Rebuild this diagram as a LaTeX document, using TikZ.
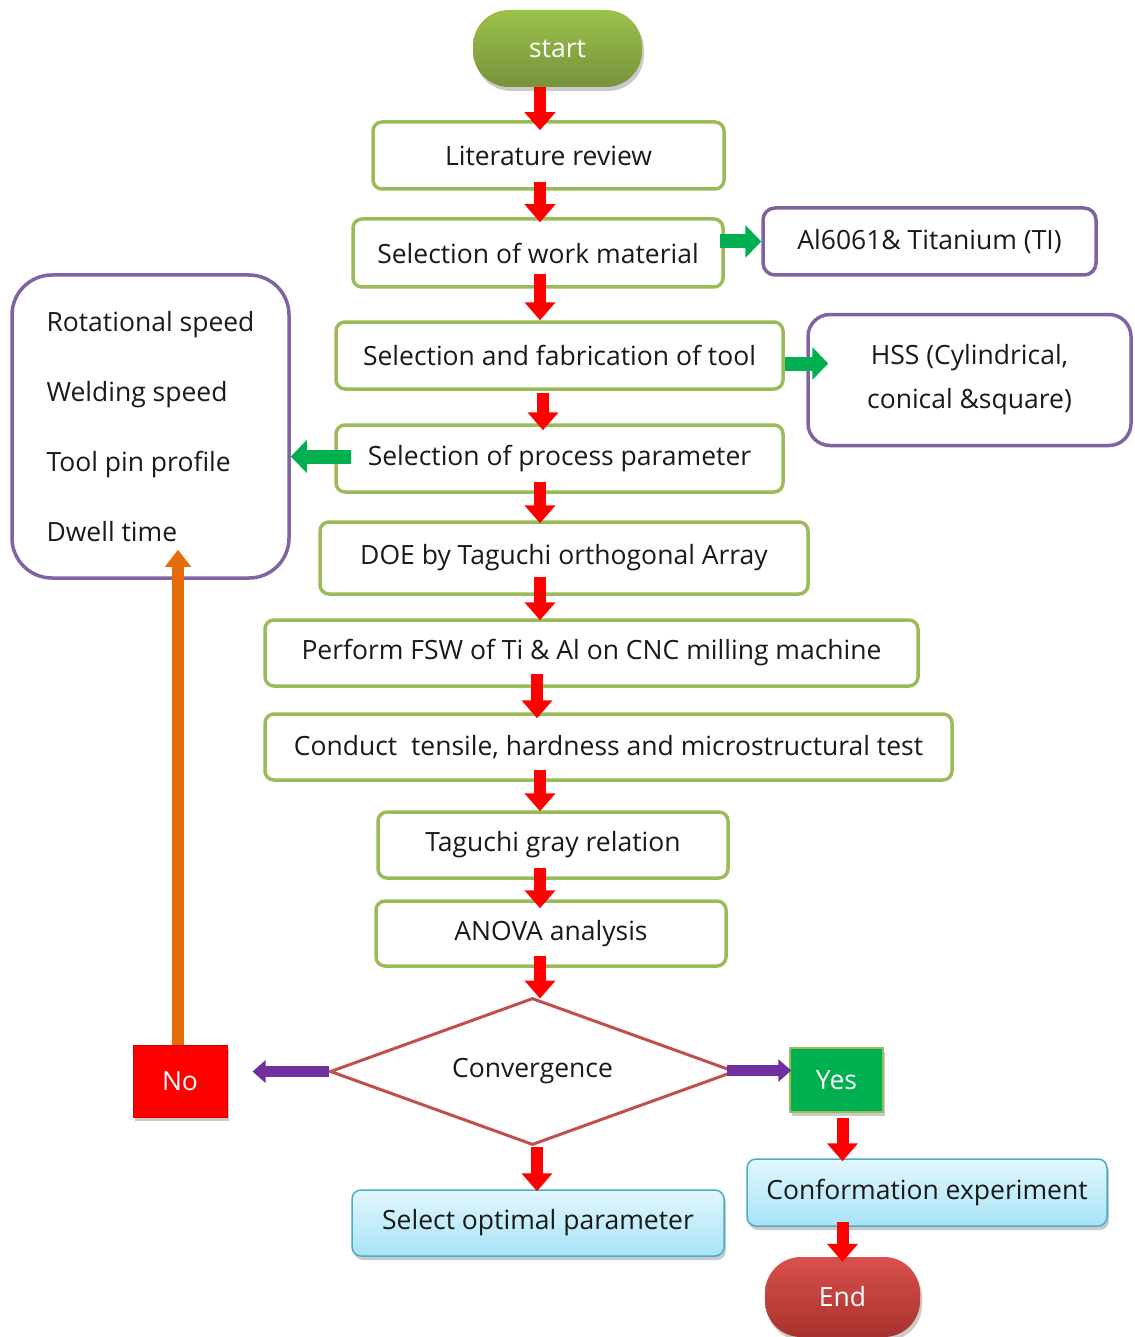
\documentclass[tikz,border=0pt]{standalone}
\usepackage{fontspec}
\setmainfont{Open Sans}
\usetikzlibrary{arrows.meta,shapes.geometric,shadows}
\definecolor{gbord}{HTML}{9BBB59}
\definecolor{pbord}{HTML}{8064A2}
\definecolor{arrgreen}{HTML}{00B050}
\definecolor{arrpurple}{HTML}{7030A0}
\definecolor{arrorange}{HTML}{E46C0A}
\definecolor{dbord}{HTML}{C0504D}
\definecolor{bluetop}{HTML}{E3F7FD}
\definecolor{bluebot}{HTML}{A7E3F6}
\definecolor{bluebord}{HTML}{4BACC6}
\definecolor{starttop}{HTML}{9BC24A}
\definecolor{startbot}{HTML}{76923C}
\definecolor{endtop}{HTML}{D9504C}
\definecolor{endbot}{HTML}{A8322E}
\definecolor{txt}{HTML}{1A1A1A}
\begin{document}
\begin{tikzpicture}[x=1pt,y=-1pt,
  every node/.style={font=\fontsize{26.5}{31}\selectfont, inner sep=0pt, text=txt},
  myshadow/.style={drop shadow={shadow xshift=2pt, shadow yshift=-4pt, opacity=0.35, fill=black!60}},
  stepbox/.style={draw=gbord, line width=3.5pt, rounded corners=9pt, fill=white},
  sidebox/.style={draw=pbord, line width=3.5pt, rounded corners=12pt, fill=white},
  pill/.style={rounded corners=36pt, text=white, myshadow},
  bluebox/.style={draw=bluebord, line width=1.5pt, rounded corners=9pt, top color=bluetop, bottom color=bluebot, myshadow},
  redarr/.style={draw=red, line width=12pt, -{Triangle[width=30pt,length=18pt]}, shorten <=-12pt, shorten >=-4pt},
  greenarr/.style={draw=arrgreen, line width=14pt, -{Triangle[width=32pt,length=16pt]}},
  purplearr/.style={draw=arrpurple, line width=11pt, -{Triangle[width=22pt,length=13pt]}},
  orangearr/.style={draw=arrorange, line width=12pt, -{Triangle[width=25pt,length=17pt]}}
]
\useasboundingbox (0,0) rectangle (1134,1337);

% nodes
\node[pill, top color=starttop, bottom color=startbot, minimum width=169pt, minimum height=77pt] (start) at (557.5,48.5) {start};
\node[stepbox, minimum width=351pt, minimum height=67pt] (lr) at (548.5,155.5) {Literature review};
\node[stepbox, minimum width=370pt, minimum height=68pt] (swm) at (538,253) {Selection of work material};
\node[sidebox, minimum width=333pt, minimum height=67pt] (al) at (929.5,241.5) {Al6061\& Titanium (TI)};
\node[stepbox, minimum width=447pt, minimum height=67pt] (sft) at (559.5,355.5) {Selection and fabrication of tool};
\node[sidebox, rounded corners=22pt, minimum width=323pt, minimum height=131pt, align=center] (hss) at (969.5,380) {HSS (Cylindrical,\\[13pt]conical \&square)};
\node[stepbox, minimum width=447pt, minimum height=67pt] (spp) at (559.5,458.5) {Selection of process parameter};
\node[sidebox, rounded corners=40pt, minimum width=277pt, minimum height=303pt, align=left] (params) at (150.5,426.5) {Rotational speed\\[39pt]Welding speed\\[39pt]Tool pin profile\\[39pt]Dwell time};
\node[stepbox, minimum width=488pt, minimum height=72pt] (doe) at (564,558) {DOE by Taguchi orthogonal Array};
\node[stepbox, minimum width=653pt, minimum height=66pt] (fsw) at (591.5,653) {Perform FSW of Ti \& Al on CNC milling machine};
\node[stepbox, minimum width=687pt, minimum height=66pt] (cond) at (608.5,747) {Conduct\ \ tensile, hardness and microstructural test};
\node[stepbox, minimum width=350pt, minimum height=66pt] (tgr) at (553,845) {Taguchi gray relation};
\node[stepbox, minimum width=350pt, minimum height=65pt] (anova) at (551,933.5) {ANOVA analysis};
\node[diamond, draw=dbord, line width=3pt, fill=white, aspect=2.75, minimum width=405pt, minimum height=147pt] (conv) at (532.5,1071.5) {\raisebox{5pt}{Convergence}};
\node[fill=red, draw=red!85!black, line width=1pt, text=white, minimum width=94pt, minimum height=72pt, myshadow] (no) at (180,1081) {No};
\node[fill=arrgreen, draw=gbord, line width=1.5pt, text=white, minimum width=93pt, minimum height=64pt, myshadow] (yes) at (836.5,1080) {Yes};
\node[bluebox, minimum width=360pt, minimum height=67pt] (conf) at (927,1192.5) {Conformation experiment};
\node[pill, top color=endtop, bottom color=endbot, minimum width=155pt, minimum height=80pt] (end) at (842.5,1297) {End};
\node[bluebox, minimum width=372pt, minimum height=66pt] (sop) at (538,1223) {Select optimal parameter};

% connectors
\coordinate (spine) at (540,0);
\draw[redarr, shorten <=0pt, shorten >=-10pt] (start.south -| spine) -- (lr.north -| spine);
\draw[redarr, shorten <=-9pt, shorten >=-5pt] (lr.south -| spine) -- (swm.north -| spine);
\draw[redarr, shorten <=-15pt, shorten >=0pt] (swm.south -| spine) -- (sft.north -| spine);
\draw[redarr, shorten <=2pt, shorten >=-7pt] ([xshift=3pt]sft.south -| spine) -- ([xshift=3pt]spp.north -| spine);
\draw[redarr, shorten <=-12pt, shorten >=-3pt] (spp.south -| spine) -- (doe.north -| spine);
\draw[redarr, shorten <=-19pt, shorten >=-2pt] (doe.south -| spine) -- (fsw.north -| spine);
\draw[redarr, shorten <=-14pt, shorten >=-6pt] ([xshift=-3pt]fsw.south -| spine) -- ([xshift=-3pt]cond.north -| spine);
\draw[redarr, shorten <=-12pt, shorten >=-1pt] (cond.south -| spine) -- (tgr.north -| spine);
\draw[redarr, shorten <=-12pt, shorten >=-9pt] (tgr.south -| spine) -- (anova.north -| spine);
\draw[redarr, shorten <=-12pt, shorten >=-2pt] (anova.south -| spine) -- (conv.north -| spine);
\draw[redarr, shorten <=0pt, shorten >=-2pt] ([xshift=-3pt]conv.south -| spine) -- ([xshift=-3pt]sop.north -| spine);

\draw[greenarr, shorten <=-5pt] (al.west -| swm.east) -- (al.west);
\draw[greenarr, shorten >=-22pt] ([yshift=-8pt]sft.east) -- ([yshift=-8pt]sft.east -| hss.west);
\draw[greenarr, shorten <=-17pt] ([yshift=2pt]spp.west) -- ([yshift=2pt]spp.west -| params.east);

\draw[orangearr, shorten >=-30pt] ([xshift=-2pt]no.north) -- ([xshift=-2pt]no.north |- params.south);
\draw[purplearr, shorten >=25pt] (conv.west) -- (conv.west -| no.east);
\draw[purplearr, shorten <=-10pt, shorten >=-2pt] ([yshift=1pt]conv.east) -- ([yshift=1pt]conv.east -| yes.west);

\draw[redarr, shorten <=5pt, shorten >=-3pt] ([xshift=6pt]yes.south) -- ([xshift=6pt]yes.south |- conf.north);
\draw[redarr, shorten <=-5pt, shorten >=-5pt] ([xshift=6pt]yes.south |- conf.south) -- ([xshift=6pt]yes.south |- end.north);
\end{tikzpicture}
\end{document}
